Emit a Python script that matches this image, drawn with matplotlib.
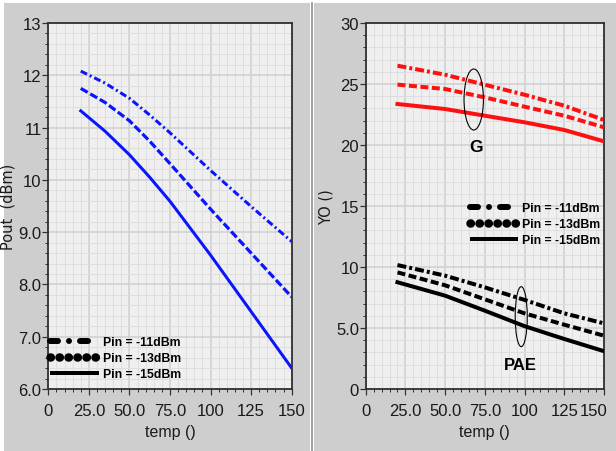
import matplotlib
matplotlib.use("Agg")
import matplotlib.pyplot as plt
from matplotlib.lines import Line2D
from matplotlib.patches import Rectangle, Ellipse
from matplotlib.transforms import ScaledTranslation
from matplotlib.ticker import MultipleLocator, FixedLocator, FixedFormatter

plt.rcParams["lines.scale_dashes"] = False

# ---- data -------------------------------------------------------------
temp_pout = [20, 35, 50, 62.5, 75, 100, 125, 150]
pout_m11 = [12.08, 11.85, 11.56, 11.24, 10.90, 10.18, 9.49, 8.82]
pout_m13 = [11.75, 11.48, 11.13, 10.74, 10.31, 9.44, 8.60, 7.76]
pout_m15 = [11.32, 10.93, 10.48, 10.05, 9.59, 8.56, 7.48, 6.40]

temp_yo = [20, 50, 75, 100, 125, 150]
gain_m11 = [26.50, 25.76, 24.94, 24.12, 23.22, 22.05]
gain_m13 = [24.95, 24.59, 23.90, 23.14, 22.40, 21.45]
gain_m15 = [23.36, 22.95, 22.40, 21.86, 21.23, 20.30]

pae_m11 = [10.16, 9.29, 8.33, 7.30, 6.20, 5.38]
pae_m13 = [9.56, 8.50, 7.35, 6.20, 5.27, 4.37]
pae_m15 = [8.75, 7.65, 6.42, 5.15, 4.10, 3.10]

series_labels = ["Pin = -11dBm", "Pin = -13dBm", "Pin = -15dBm"]

x_ticks = [0, 25, 50, 75, 100, 125, 150]
x_ticklabels = ["0", "25.0", "50.0", "75.0", "100", "125", "150"]
pout_ticks = [6, 7, 8, 9, 10, 11, 12, 13]
pout_ticklabels = ["6.0", "7.0", "8.0", "9.0", "10", "11", "12", "13"]
yo_ticks = [0, 5, 10, 15, 20, 25, 30]
yo_ticklabels = ["0", "5.0", "10", "15", "20", "25", "30"]

# ---- styling ----------------------------------------------------------
W, H = 616, 452
PX = 0.72  # points per pixel at 100 dpi
SANS = ["Liberation Sans", "DejaVu Sans"]
FIG_BG = "#cecece"
AX_BG = "#efefef"
TXT = "#1a1a1a"

fig = plt.figure(figsize=(W / 100, H / 100), dpi=100, facecolor="white")

# panel backgrounds and divider
fig.patches.append(Rectangle((4 / W, 0), (310 - 4) / W, (H - 4) / H,
                             transform=fig.transFigure, facecolor=FIG_BG,
                             edgecolor="none", zorder=-10))
fig.patches.append(Rectangle((313.5 / W, 0), (W - 313.5) / W, (H - 4) / H,
                             transform=fig.transFigure, facecolor=FIG_BG,
                             edgecolor="none", zorder=-10))
fig.lines.append(Line2D([312 / W, 312 / W], [0, (H - 4) / H],
                        transform=fig.transFigure, color="#8a8a8a",
                        lw=1.6 * PX, zorder=-9))


def add_axes(x0, x1, y_top, y_bot):
    return fig.add_axes([x0 / W, (H - y_bot) / H, (x1 - x0) / W, (y_bot - y_top) / H])


def style_axes(ax, yticks, yticklabels, ylim, yminor, ylabel):
    ax.set_facecolor(AX_BG)
    ax.set_xlim(0, 150)
    ax.set_ylim(*ylim)
    ax.xaxis.set_major_locator(FixedLocator(x_ticks))
    ax.xaxis.set_major_formatter(FixedFormatter(x_ticklabels))
    ax.xaxis.set_minor_locator(MultipleLocator(5))
    ax.yaxis.set_major_locator(FixedLocator(yticks))
    ax.yaxis.set_major_formatter(FixedFormatter(yticklabels))
    ax.yaxis.set_minor_locator(MultipleLocator(yminor))
    ax.grid(which="major", color="#d0d0d0", lw=1.6 * PX, zorder=0)
    ax.grid(which="minor", color="#dedede", lw=1.0 * PX, zorder=0)
    ax.set_axisbelow(True)
    for s in ax.spines.values():
        s.set_color("#303030")
        s.set_linewidth(1.8 * PX)
    ax.tick_params(which="major", direction="out", length=6 * PX, width=1.2 * PX,
                   color="#303030", labelcolor=TXT, labelsize=12)
    ax.tick_params(which="minor", direction="out", length=3 * PX, width=1.0 * PX,
                   color="#303030")
    ax.tick_params(axis="y", pad=0.5)
    ax.tick_params(axis="x", pad=6)
    for lab in ax.get_xticklabels() + ax.get_yticklabels():
        lab.set_family(SANS)
    ax.set_xlabel("temp ()", family=SANS, fontsize=11.5, color=TXT, labelpad=4)
    ax.set_ylabel(ylabel, family="DejaVu Sans", fontsize=10.5, color=TXT, labelpad=2)


def add_legend(ax, anchor):
    handles = [
        Line2D([], [], color="black", lw=6 * PX, dash_capstyle="round",
               dashes=(8 * PX, 11 * PX, 0.01, 11 * PX)),
        Line2D([], [], color="black", lw=8.5 * PX, dash_capstyle="round",
               dashes=(0.4 * PX, 8.6 * PX)),
        Line2D([], [], color="black", lw=4 * PX, solid_capstyle="butt"),
    ]
    ax.legend(handles, series_labels, loc="lower left", bbox_to_anchor=anchor,
              frameon=False, borderpad=0, borderaxespad=0, handlelength=4.0,
              handletextpad=0.3, labelspacing=0.32,
              prop={"family": SANS, "weight": "bold", "size": 8.8})


# ---- left panel: output power ----------------------------------------
ax1 = add_axes(48.3, 291.7, 24, 390)
style_axes(ax1, pout_ticks, pout_ticklabels, (6, 13), 0.2, "Pout  (dBm)")
blue = "#0a14ff"
ax1.plot(temp_pout, pout_m11, color=blue, lw=3 * PX,
         dashes=(7 * PX, 3 * PX, 2 * PX, 3 * PX), zorder=3)
ax1.plot(temp_pout, pout_m13, color=blue, lw=3.2 * PX, dashes=(8 * PX, 3 * PX), zorder=3)
ax1.plot(temp_pout, pout_m15, color=blue, lw=3 * PX, zorder=3)
add_legend(ax1, (0.008, 0.025))

# ---- right panel: gain and PAE ---------------------------------------
ax2 = add_axes(365.7, 604, 24, 390)
style_axes(ax2, yo_ticks, yo_ticklabels, (0, 30), 1, "YO ()")
red = "#ff1010"
ax2.plot(temp_yo, gain_m11, color=red, lw=4 * PX,
         dashes=(9 * PX, 3 * PX, 3 * PX, 3 * PX), zorder=3)
ax2.plot(temp_yo, gain_m13, color=red, lw=4 * PX, dashes=(8 * PX, 3.5 * PX), zorder=3)
ax2.plot(temp_yo, gain_m15, color=red, lw=4 * PX, zorder=3)
ax2.plot(temp_yo, pae_m11, color="black", lw=4 * PX,
         dashes=(9 * PX, 3 * PX, 3 * PX, 3 * PX), zorder=3)
ax2.plot(temp_yo, pae_m13, color="black", lw=4 * PX, dashes=(8 * PX, 3.5 * PX), zorder=3)
ax2.plot(temp_yo, pae_m15, color="black", lw=4 * PX, zorder=3)

ax2.add_patch(Ellipse((68.0, 23.73), 12.2, 5.0, facecolor="none",
                      edgecolor="black", lw=1.1 * PX, zorder=4))
ax2.add_patch(Ellipse((97.9, 5.93), 7.6, 4.92, facecolor="none",
                      edgecolor="black", lw=1.1 * PX, zorder=4))
ax2.text(69.4, 19.9, "G", ha="center", va="center", family=SANS,
         weight="bold", fontsize=12.5, color="black", zorder=5)
ax2.text(97.1, 2.0, "PAE", ha="center", va="center", family=SANS,
         weight="bold", fontsize=12, color="black", zorder=5)
add_legend(ax2, (0.436, 0.39))

# keep the last x tick label of the right panel inside the figure
last = ax2.xaxis.get_major_ticks()[-1].label1
last.set_horizontalalignment("right")
last.set_transform(last.get_transform() + ScaledTranslation(3.5 / 100, 0, fig.dpi_scale_trans))

fig.savefig("out.png", dpi=100, facecolor=fig.get_facecolor())
